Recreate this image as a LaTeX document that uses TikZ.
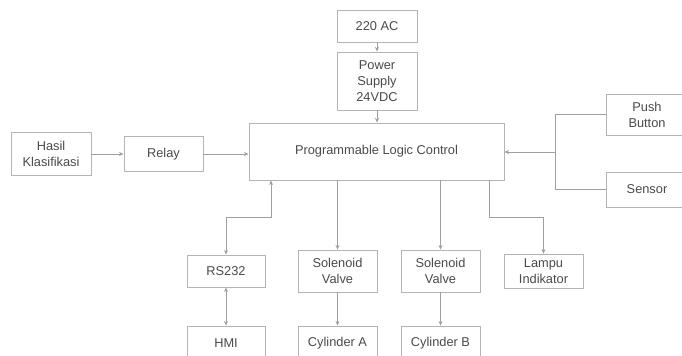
\documentclass[tikz,border=0pt]{standalone}
\usepackage{fontspec}
\setmainfont{Liberation Sans}
\usetikzlibrary{arrows.meta}
\definecolor{boxline}{HTML}{B4B4B4}
\definecolor{txt}{HTML}{4A4A4A}
\definecolor{wire}{HTML}{A0A0A0}
\definecolor{tip}{HTML}{606060}
\tikzset{
  blk/.style={draw=boxline, line width=0.65pt, fill=white, text=txt, align=center,
    font=\fontsize{9.6}{12}\selectfont, inner sep=1pt},
  wirel/.style={draw=wire, line width=0.6pt},
  arr/.style={wirel, -{Stealth[length=3.5pt,width=3pt,fill=tip]}},
  barr/.style={wirel, {Stealth[length=3.5pt,width=3pt,fill=tip]}-{Stealth[length=3.5pt,width=3pt,fill=tip]}}
}
\begin{document}
\begin{tikzpicture}[x=0.75pt,y=-0.75pt]
\clip (0,0) rectangle (682,356);
\fill[white] (0,0) rectangle (682,356);
% nodes
\node[blk, minimum width=80*0.75pt, minimum height=32*0.75pt] (ac) at (377,26) {220 AC};
\node[blk, minimum width=80*0.75pt, minimum height=58*0.75pt] (ps) at (377,81) {Power\\Supply\\24VDC};
\node[blk, minimum width=255*0.75pt, minimum height=57*0.75pt] (plc) at (376.5,151.5) {Programmable Logic Control};
\node[blk, minimum width=80*0.75pt, minimum height=43*0.75pt] (hasil) at (51,154) {Hasil\\Klasifikasi};
\node[blk, minimum width=79*0.75pt, minimum height=35*0.75pt] (relay) at (163.5,154) {Relay};
\node[blk, minimum width=82*0.75pt, minimum height=41*0.75pt] (push) at (647,114.5) {Push\\Button};
\node[blk, minimum width=82*0.75pt, minimum height=35*0.75pt] (sensor) at (647,189.5) {Sensor};
\node[blk, minimum width=78*0.75pt, minimum height=32*0.75pt] (rs) at (226,271) {RS232};
\node[blk, minimum width=79*0.75pt, minimum height=42*0.75pt] (sv1) at (337.5,271) {Solenoid\\Valve};
\node[blk, minimum width=79*0.75pt, minimum height=42*0.75pt] (sv2) at (440.5,271) {Solenoid\\Valve};
\node[blk, minimum width=79*0.75pt, minimum height=34*0.75pt] (lamp) at (543.5,271) {Lampu\\Indikator};
\node[blk, minimum width=78*0.75pt, minimum height=34*0.75pt] (hmi) at (226,343) {HMI};
\node[blk, minimum width=79*0.75pt, minimum height=34*0.75pt] (cya) at (337.5,343) {Cylinder A};
\node[blk, minimum width=79*0.75pt, minimum height=34*0.75pt] (cyb) at (440.5,343) {Cylinder B};
% helper coordinates
\coordinate (j) at (555,152);
\coordinate (b1) at (271,217);
\coordinate (b2) at (489,217);
% connectors
\draw[arr] (ac) -- (ps);
\draw[arr] (ps) -- (ps |- plc.north);
\draw[arr] (hasil.east) -- (relay.west);
\draw[arr] (relay.east) -- (relay.east -| plc.west);
\draw[wirel] (push.west) -| (j);
\draw[wirel] (sensor.west) -| (j);
\draw[arr] (j) -- (j -| plc.east);
\draw[barr] (plc.south -| b1) -- (b1) -| (rs.north);
\draw[barr] (rs) -- (hmi);
\draw[arr] (plc.south -| sv1) -- (sv1.north);
\draw[arr] (sv1) -- (cya);
\draw[arr] (plc.south -| sv2) -- (sv2.north);
\draw[arr] (sv2) -- (cyb);
\draw[arr] (plc.south -| b2) -- (b2) -| (lamp.north);
\end{tikzpicture}
\end{document}
